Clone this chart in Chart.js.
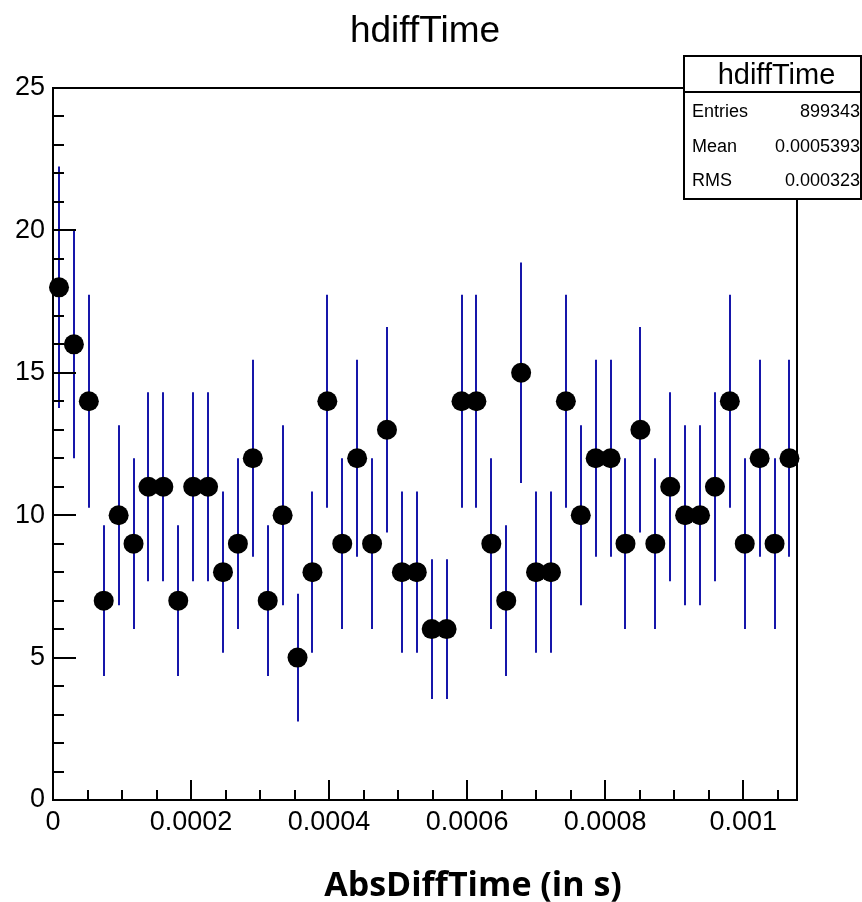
<!DOCTYPE html>
<html>
<head>
<meta charset="utf-8">
<title>hdiffTime</title>
<script src="https://cdn.jsdelivr.net/npm/chart.js@4.4.0/dist/chart.umd.min.js"></script>
<style>
  html, body { margin: 0; padding: 0; background: #fff; }
  canvas { display: block; }
</style>
</head>
<body>
<canvas id="hdiff" width="862" height="902"></canvas>
<script>
// bin centres (s)
const binCenters = [
  0.0000087, 0.0000303, 0.0000519, 0.0000735, 0.0000951, 0.0001167, 0.0001383, 0.0001599, 0.0001815, 0.0002031,
  0.0002247, 0.0002463, 0.0002679, 0.0002895, 0.0003111, 0.0003327, 0.0003543, 0.0003759, 0.0003975, 0.0004191,
  0.0004407, 0.0004623, 0.0004839, 0.0005055, 0.0005271, 0.0005487, 0.0005703, 0.0005919, 0.0006135, 0.0006351,
  0.0006567, 0.0006783, 0.0006999, 0.0007215, 0.0007431, 0.0007647, 0.0007863, 0.0008079, 0.0008295, 0.0008511,
  0.0008727, 0.0008943, 0.0009159, 0.0009375, 0.0009591, 0.0009807, 0.0010023, 0.0010239, 0.0010455, 0.0010671
];
const counts = [
  18, 16, 14, 7, 10, 9, 11, 11, 7, 11,
  11, 8, 9, 12, 7, 10, 5, 8, 14, 9,
  12, 9, 13, 8, 8, 6, 6, 14, 14, 9,
  7, 15, 8, 8, 14, 10, 12, 12, 9, 13,
  9, 11, 10, 10, 11, 14, 9, 12, 9, 12
];
const errors = [
  4.24, 4.00, 3.74, 2.65, 3.16, 3.00, 3.32, 3.32, 2.65, 3.32,
  3.32, 2.83, 3.00, 3.46, 2.65, 3.16, 2.24, 2.83, 3.74, 3.00,
  3.46, 3.00, 3.61, 2.83, 2.83, 2.45, 2.45, 3.74, 3.74, 3.00,
  2.65, 3.87, 2.83, 2.83, 3.74, 3.16, 3.46, 3.46, 3.00, 3.61,
  3.00, 3.32, 3.16, 3.16, 3.32, 3.74, 3.00, 3.46, 3.00, 3.46
];
const xTicks = [0, 0.0002, 0.0004, 0.0006, 0.0008, 0.001];
const yTicks = [0, 5, 10, 15, 20, 25];
const statLabels = ['Entries', 'Mean', 'RMS'];
const statValues = ['899343', '0.0005393', '0.000323'];

const histTitle = 'hdiffTime';
const xTitle = 'AbsDiffTime (in s)';
const errColor = '#1616aa';
const sans = "'Liberation Sans', Arial, sans-serif";

Chart.defaults.font.family = sans;
Chart.defaults.color = '#000';

// blue vertical error bars, under the markers
const errorBars = {
  id: 'errorBars',
  beforeDatasetsDraw(chart) {
    const ctx = chart.ctx;
    const ys = chart.scales.y;
    const meta = chart.getDatasetMeta(0);
    ctx.save();
    ctx.strokeStyle = errColor;
    ctx.lineWidth = 2;
    meta.data.forEach((pt, i) => {
      const x = Math.round(pt.x);
      ctx.beginPath();
      ctx.moveTo(x, ys.getPixelForValue(counts[i] + errors[i]));
      ctx.lineTo(x, ys.getPixelForValue(counts[i] - errors[i]));
      ctx.stroke();
    });
    ctx.restore();
  }
};

// ROOT style frame, inward ticks, stats box and titles
const rootFrame = {
  id: 'rootFrame',
  afterDatasetsDraw(chart) {
    const ctx = chart.ctx;
    const a = chart.chartArea;
    const xs = chart.scales.x, ys = chart.scales.y;
    ctx.save();
    ctx.strokeStyle = '#000';
    ctx.lineWidth = 2;
    ctx.strokeRect(a.left, a.top, a.right - a.left, a.bottom - a.top);

    ctx.beginPath();
    for (let v = 0; v <= 25; v++) {
      const y = Math.round(ys.getPixelForValue(v));
      const len = v % 5 === 0 ? 23 : 11;
      ctx.moveTo(a.left, y);
      ctx.lineTo(a.left + len, y);
    }
    for (let k = 0; k * 0.00005 <= xs.max; k++) {
      const x = Math.round(xs.getPixelForValue(k * 0.00005));
      const len = k % 4 === 0 ? 20 : 10;
      ctx.moveTo(x, a.bottom);
      ctx.lineTo(x, a.bottom - len);
    }
    ctx.stroke();

    // stats box
    const bx = 684, by = 56, bw = 177, bh = 143;
    ctx.fillStyle = '#fff';
    ctx.fillRect(bx, by, bw, bh);
    ctx.strokeRect(bx, by, bw, bh);
    ctx.beginPath();
    ctx.moveTo(bx, 92);
    ctx.lineTo(bx + bw, 92);
    ctx.stroke();

    ctx.fillStyle = '#000';
    ctx.textBaseline = 'alphabetic';
    ctx.textAlign = 'center';
    ctx.font = '29px ' + sans;
    ctx.fillText(histTitle, bx + bw / 2 + 4, 84);
    ctx.font = '18px ' + sans;
    const rowY = [117, 152, 186];
    statLabels.forEach((lab, i) => {
      ctx.textAlign = 'left';
      ctx.fillText(lab, bx + 8, rowY[i]);
      ctx.textAlign = 'right';
      ctx.fillText(statValues[i], bx + bw - 1, rowY[i]);
    });

    // main title
    ctx.textAlign = 'center';
    ctx.font = '37px ' + sans;
    ctx.fillText(histTitle, 425, 42);

    // x axis title
    ctx.font = "bold 34px 'Open Sans', Lato, sans-serif";
    ctx.fillText(xTitle, 473, 896);
    ctx.restore();
  }
};

new Chart(document.getElementById('hdiff'), {
  type: 'scatter',
  data: {
    datasets: [{
      data: binCenters.map((x, i) => ({ x: x, y: counts[i] })),
      pointRadius: 10,
      pointBackgroundColor: '#000',
      pointBorderColor: '#000',
      pointBorderWidth: 0,
      showLine: false,
      clip: false
    }]
  },
  options: {
    responsive: false,
    animation: false,
    events: [],
    layout: { padding: { top: 88, right: 65, left: 0, bottom: 0 } },
    plugins: {
      legend: { display: false },
      title: { display: false },
      tooltip: { enabled: false }
    },
    scales: {
      x: {
        type: 'linear',
        min: 0,
        max: 0.001078,
        grid: { display: false, drawTicks: false },
        border: { display: false },
        afterBuildTicks: axis => { axis.ticks = xTicks.map(v => ({ value: v })); },
        afterFit: axis => { axis.height = 102; },
        ticks: {
          padding: 6,
          maxRotation: 0,
          autoSkip: false,
          font: { size: 27 },
          color: '#000',
          callback: v => v === 0 ? '0' : String(v)
        }
      },
      y: {
        type: 'linear',
        min: 0,
        max: 25,
        grid: { display: false, drawTicks: false },
        border: { display: false },
        afterBuildTicks: axis => { axis.ticks = yTicks.map(v => ({ value: v })); },
        afterFit: axis => { axis.width = 53; },
        ticks: {
          padding: 8,
          autoSkip: false,
          font: { size: 27 },
          color: '#000'
        }
      }
    }
  },
  plugins: [errorBars, rootFrame]
});
</script>
</body>
</html>
